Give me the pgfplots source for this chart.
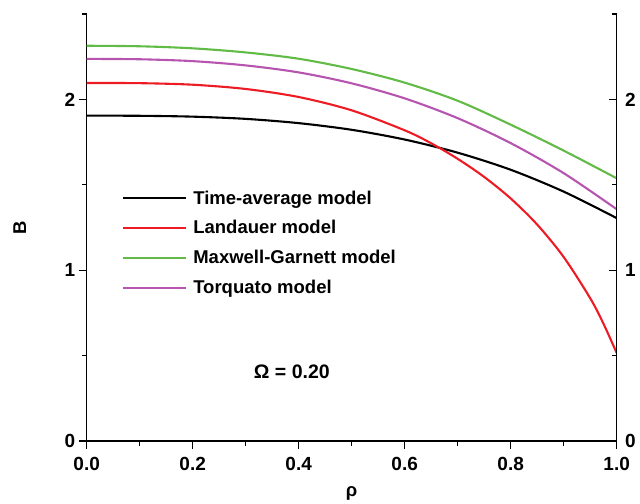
\documentclass[border=0pt]{standalone}
\usepackage{fontspec}
\setmainfont{Liberation Sans}
\usepackage{pgfplots}
\pgfplotsset{compat=1.18}
\definecolor{cred}{RGB}{237,28,36}
\definecolor{cgreen}{RGB}{98,187,70}
\definecolor{cpurple}{RGB}{183,84,175}
\newcommand{\fs}{\fontsize{18.5bp}{21bp}\selectfont\bfseries}
\newcommand{\ft}{\fontsize{19bp}{21bp}\selectfont\bfseries}
\pgfplotsset{
  common/.style={
    at={(0,0)}, anchor=origin,
    scale only axis, width=530bp, height=427bp,
    xmin=0, xmax=1, ymin=0, ymax=2.5,
    axis line style={line width=1.3bp},
    major tick length=8bp, minor tick length=4.5bp,
    every tick/.style={line width=1.3bp, black},
    ytick={0,1,2}, minor ytick={0.5,1.5,2.5},
    ticklabel style={font=\ft},
    /pgf/number format/assume math mode=true,
  }
}
\begin{document}
\begin{tikzpicture}
\begin{axis}[
  common,
  axis x line*=bottom, axis y line*=left,
  tick align=outside,
  xtick={0,0.2,0.4,0.6,0.8,1.0}, minor xtick={0.1,0.3,0.5,0.7,0.9},
  xticklabel style={yshift=-5bp, /pgf/number format/.cd, fixed, fixed zerofill, precision=1},
  xlabel={ρ}, ylabel={B},
  xlabel style={font=\fs, at={(axis description cs:0.5,0)}, anchor=center, yshift=-52bp},
  ylabel style={font=\fs, at={(axis description cs:0,0.5)}, anchor=center, rotate=0, yshift=67bp},
  legend style={at={(axis cs:0.061,1.49)}, anchor=north west, draw=none, fill=none,
    font=\fs, row sep=11bp, /tikz/every odd column/.append style={column sep=4bp}},
  legend cell align=left,
  legend image code/.code={\draw[#1] (0bp,0bp) -- (63bp,0bp);},
]
\addplot[black, line width=2.1bp, smooth] coordinates {(0,1.905)(0.1,1.904)(0.2,1.899)(0.3,1.886)(0.4,1.861)(0.5,1.822)(0.6,1.765)(0.7,1.688)(0.8,1.588)(0.9,1.460)(1.0,1.305)};
\addlegendentry{Time-average model}
\addplot[cred, line width=2.1bp, smooth] coordinates {(0,2.096)(0.1,2.095)(0.2,2.086)(0.3,2.061)(0.4,2.014)(0.5,1.936)(0.6,1.819)(0.65,1.743)(0.7,1.652)(0.75,1.546)(0.8,1.420)(0.85,1.267)(0.9,1.077)(0.95,0.836)(0.975,0.687)(1.0,0.515)};
\addlegendentry{Landauer model}
\addplot[cgreen, line width=2.1bp, smooth] coordinates {(0,2.314)(0.1,2.311)(0.2,2.299)(0.3,2.275)(0.4,2.238)(0.5,2.178)(0.6,2.098)(0.7,1.992)(0.8,1.852)(0.9,1.700)(1.0,1.538)};
\addlegendentry{Maxwell-Garnett model}
\addplot[cpurple, line width=2.1bp, smooth] coordinates {(0,2.237)(0.1,2.235)(0.2,2.224)(0.3,2.199)(0.4,2.158)(0.5,2.094)(0.6,2.006)(0.7,1.890)(0.8,1.744)(0.9,1.568)(1.0,1.357)};
\addlegendentry{Torquato model}
\node at (axis cs:0.387,0.406) {\fontsize{19.5bp}{21bp}\selectfont\bfseries Ω = 0.20};
\end{axis}
\begin{axis}[
  common,
  axis y line*=right, axis x line=none,
  tick align=inside,
  yticklabel style={xshift=5bp},
]
\end{axis}
\pgfresetboundingbox
\path (-86.7bp,-63bp) rectangle (553.3bp,441bp);
\end{tikzpicture}
\end{document}
